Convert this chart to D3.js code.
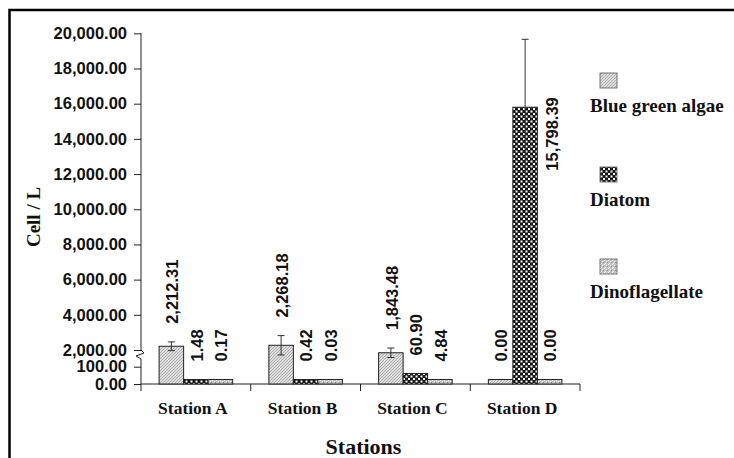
<!DOCTYPE html>
<html>
<head>
<meta charset="utf-8">
<script src="https://cdn.jsdelivr.net/npm/d3@7"></script>
<style>
  html, body { margin: 0; padding: 0; background: #fff; }
  svg { display: block; }
</style>
</head>
<body>
<div id="chart"></div>
<script>
// Data
const stations = ['Station A', 'Station B', 'Station C', 'Station D'];
const seriesNames = ['Blue green algae', 'Diatom', 'Dinoflagellate'];
const blueGreen = [2212.31, 2268.18, 1843.48, 0.00];
const diatom = [1.48, 0.42, 60.90, 15798.39];
const dino = [0.17, 0.03, 4.84, 0.00];
const blueGreenErr = [250, 550, 270, 0];
const diatomErr = [0, 0, 0, 3860];
const dinoErr = [0, 0, 0, 0];
const upperTicks = [2000, 4000, 6000, 8000, 10000, 12000, 14000, 16000, 18000, 20000];
const lowerTicks = [0, 100];

const seriesValues = [blueGreen, diatom, dino];
const seriesErrors = [blueGreenErr, diatomErr, dinoErr];
const patternIds = ['hatch', 'checks', 'speckle'];

const w = 734;
const h = 458;
const axisX = 141;
const plotRight = 580;
const baseY = 384;
const minBar = 4.5;

const svg = d3.select('#chart')
  .append('svg')
  .attr('width', w)
  .attr('height', h);

// Fill patterns
const defs = svg.append('defs');

const hatch = defs.append('pattern')
  .attr('id', 'hatch').attr('patternUnits', 'userSpaceOnUse')
  .attr('width', 3).attr('height', 3);
hatch.append('rect').attr('width', 3).attr('height', 3).attr('fill', '#dcdcdc');
hatch.append('path').attr('d', 'M-1,1 L1,-1 M0,3 L3,0 M2,4 L4,2')
  .attr('stroke', '#a4a4a4').attr('stroke-width', 0.8);

const checks = defs.append('pattern')
  .attr('id', 'checks').attr('patternUnits', 'userSpaceOnUse')
  .attr('width', 5).attr('height', 5);
checks.append('rect').attr('width', 5).attr('height', 5).attr('fill', '#161616');
checks.append('rect').attr('x', 0.5).attr('y', 0.5).attr('width', 2).attr('height', 2).attr('fill', '#fff');
checks.append('rect').attr('x', 3).attr('y', 3).attr('width', 2).attr('height', 2).attr('fill', '#fff');

const speckle = defs.append('pattern')
  .attr('id', 'speckle').attr('patternUnits', 'userSpaceOnUse')
  .attr('width', 4).attr('height', 4);
speckle.append('rect').attr('width', 4).attr('height', 4).attr('fill', '#c4c4c4');
speckle.append('rect').attr('x', 0).attr('y', 0).attr('width', 1).attr('height', 1).attr('fill', '#fff');
speckle.append('rect').attr('x', 2).attr('y', 1).attr('width', 1).attr('height', 1).attr('fill', '#f2f2f2');
speckle.append('rect').attr('x', 1).attr('y', 3).attr('width', 1).attr('height', 1).attr('fill', '#fff');
speckle.append('rect').attr('x', 3).attr('y', 2).attr('width', 1).attr('height', 1).attr('fill', '#8c8c8c');

// Outer frame
svg.append('rect')
  .attr('x', 9.5).attr('y', 10)
  .attr('width', 800).attr('height', 600)
  .attr('fill', 'none').attr('stroke', '#000').attr('stroke-width', 2.5);

// Scales: broken axis, lower 0-100 and upper 2,000-20,000
const yLow = d3.scaleLinear().domain([0, 100]).range([baseY, 366.7]);
const yUp = d3.scaleLinear().domain([2000, 20000]).range([350, 33.3]);
const yOf = v => v > 100 ? yUp(v) : Math.min(yLow(v), baseY - minBar);

const x = d3.scaleBand().domain(stations).range([axisX, plotRight]);
const pad = x.bandwidth() * 0.165;
const xs = d3.scaleBand().domain(seriesNames).range([pad, x.bandwidth() - pad]);

const fmt = d3.format(',.2f');

// Y axes (two segments)
const yAxisUp = svg.append('g')
  .attr('transform', `translate(${axisX},0)`)
  .call(d3.axisLeft(yUp).tickValues(upperTicks).tickFormat(fmt).tickSize(7).tickPadding(7));
const yAxisLow = svg.append('g')
  .attr('transform', `translate(${axisX},0)`)
  .call(d3.axisLeft(yLow).tickValues(lowerTicks).tickFormat(fmt).tickSize(7).tickPadding(7));
[yAxisUp, yAxisLow].forEach(g => {
  g.select('.domain').remove();
  g.selectAll('line').attr('stroke', '#222');
  g.selectAll('text')
    .attr('font-family', '"Liberation Sans", Arial, sans-serif')
    .attr('font-weight', 'bold')
    .attr('font-size', '16.5px')
    .attr('fill', '#111');
});

svg.append('line')
  .attr('x1', axisX).attr('x2', axisX)
  .attr('y1', yUp(20000)).attr('y2', 350)
  .attr('stroke', '#222');
svg.append('line')
  .attr('x1', axisX).attr('x2', axisX)
  .attr('y1', 359).attr('y2', baseY)
  .attr('stroke', '#222');
// break mark
svg.append('path')
  .attr('d', `M${axisX},350 L${axisX + 3},353 L${axisX - 5},356 L${axisX},359`)
  .attr('fill', 'none').attr('stroke', '#222').attr('stroke-width', 1);

// X axis
const xAxis = svg.append('g')
  .attr('transform', `translate(0,${baseY})`);
xAxis.append('line')
  .attr('x1', axisX).attr('x2', plotRight)
  .attr('stroke', '#222');
const bounds = stations.map(s => x(s)).concat([plotRight]);
xAxis.selectAll('.xtick')
  .data(bounds)
  .join('line')
  .attr('class', 'xtick')
  .attr('x1', d => d).attr('x2', d => d)
  .attr('y1', 0).attr('y2', 7)
  .attr('stroke', '#222');
xAxis.selectAll('.xlabel')
  .data(stations)
  .join('text')
  .attr('class', 'xlabel')
  .attr('x', d => x(d) + x.bandwidth() / 2 - 3)
  .attr('y', 30)
  .attr('text-anchor', 'middle')
  .attr('font-family', '"Liberation Serif", "Times New Roman", serif')
  .attr('font-weight', 'bold')
  .attr('font-size', '17.5px')
  .attr('fill', '#111')
  .text(d => d);

// Bars
const cells = [];
seriesNames.forEach((s, si) => {
  stations.forEach((st, i) => {
    cells.push({ series: s, si, station: st, value: seriesValues[si][i], err: seriesErrors[si][i] });
  });
});

svg.append('g')
  .selectAll('rect')
  .data(cells)
  .join('rect')
  .attr('x', d => x(d.station) + xs(d.series))
  .attr('y', d => yOf(d.value))
  .attr('width', xs.bandwidth())
  .attr('height', d => baseY - yOf(d.value))
  .attr('fill', d => `url(#${patternIds[d.si]})`)
  .attr('stroke', '#222')
  .attr('stroke-width', 1);

// Error bars
const errCells = cells.filter(d => d.err > 0);
const eg = svg.append('g').attr('stroke', '#333').attr('stroke-width', 1);
errCells.forEach(d => {
  const cx = x(d.station) + xs(d.series) + xs.bandwidth() / 2;
  const top = yUp(d.value + d.err);
  const bot = yUp(d.value - d.err);
  eg.append('line').attr('x1', cx).attr('x2', cx).attr('y1', top).attr('y2', bot);
  eg.append('line').attr('x1', cx - 3.5).attr('x2', cx + 3.5).attr('y1', top).attr('y2', top);
  if (d.value - d.err > 2000) return;
  eg.append('line').attr('x1', cx - 3.5).attr('x2', cx + 3.5).attr('y1', bot).attr('y2', bot);
});

// Value labels (rotated)
const isTall = d => d.err > 0 && yUp(d.value + d.err) < 120;
svg.append('g')
  .selectAll('text')
  .data(cells)
  .join('text')
  .attr('transform', d => {
    const left = x(d.station) + xs(d.series);
    const top = d.err > 0 ? yUp(d.value + d.err) : yOf(d.value);
    if (isTall(d)) {
      // tall bar: label beside the bar, hanging from its top
      return `translate(${left + xs.bandwidth() + 15},${yOf(d.value) - 10}) rotate(-90)`;
    }
    return `translate(${left + xs.bandwidth() / 2 + 1},${top - 18}) rotate(-90)`;
  })
  .attr('text-anchor', d => isTall(d) ? 'end' : 'start')
  .attr('dy', '0.35em')
  .attr('font-family', '"Liberation Sans", Arial, sans-serif')
  .attr('font-weight', 'bold')
  .attr('font-size', '16.5px')
  .attr('fill', '#111')
  .text(d => fmt(d.value));

// Axis titles
svg.append('text')
  .attr('x', (axisX + plotRight) / 2 + 3)
  .attr('y', 454)
  .attr('text-anchor', 'middle')
  .attr('font-family', '"Liberation Serif", "Times New Roman", serif')
  .attr('font-weight', 'bold')
  .attr('font-size', '22px')
  .attr('fill', '#111')
  .text('Stations');

svg.append('text')
  .attr('transform', 'translate(40,217) rotate(-90)')
  .attr('text-anchor', 'middle')
  .attr('font-family', '"Liberation Serif", "Times New Roman", serif')
  .attr('font-weight', 'bold')
  .attr('font-size', '19px')
  .attr('fill', '#111')
  .text('Cell / L');

// Legend
const legend = svg.append('g');
const legendTop = [73, 167, 259];
seriesNames.forEach((s, i) => {
  legend.append('rect')
    .attr('x', 600).attr('y', legendTop[i])
    .attr('width', 17).attr('height', 15)
    .attr('fill', `url(#${patternIds[i]})`)
    .attr('stroke', '#555').attr('stroke-width', 0.8);
  legend.append('text')
    .attr('x', 590).attr('y', legendTop[i] + 39)
    .attr('font-family', '"Liberation Serif", "Times New Roman", serif')
    .attr('font-weight', 'bold')
    .attr('font-size', '19px')
    .attr('fill', '#111')
    .text(s);
});
</script>
</body>
</html>
